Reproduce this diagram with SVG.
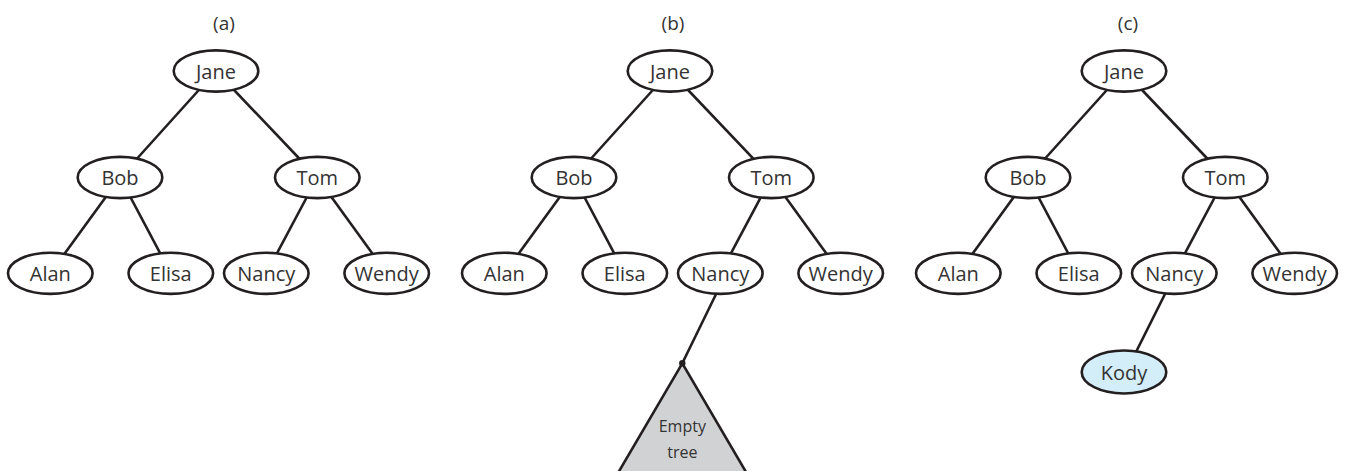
<svg xmlns="http://www.w3.org/2000/svg" width="1346" height="471" viewBox="0 0 1346 471">
  <style>
    .edge { stroke: #231f20; stroke-width: 2.6; fill: none; stroke-linecap: butt; }
    .node ellipse { fill: #ffffff; stroke: #231f20; stroke-width: 2.6; }
    .node.new ellipse { fill: #d4eef9; }
    text { font-family: "Open Sans", "Noto Sans", "Liberation Sans", sans-serif; font-size: 20px; fill: #333333; text-anchor: middle; }
    .caption { font-size: 19px; }
    .small { font-size: 16px; }
    .subtree { fill: #d1d2d4; stroke: #231f20; stroke-width: 2.6; stroke-linejoin: miter; }
  </style>
  <defs>
    <!-- shared tree layout: edges drawn centre to centre, hidden under the node fills -->
    <g id="base-edges">
      <line class="edge" x1="216" y1="71" x2="120" y2="177.5"/>
      <line class="edge" x1="216" y1="71" x2="317.3" y2="177.5"/>
      <line class="edge" x1="120" y1="177.5" x2="50.3" y2="273.3"/>
      <line class="edge" x1="120" y1="177.5" x2="170.8" y2="273.3"/>
      <line class="edge" x1="317.3" y1="177.5" x2="266.3" y2="273.3"/>
      <line class="edge" x1="317.3" y1="177.5" x2="386.7" y2="273.3"/>
    </g>
  </defs>

  <!-- (a) -->
  <g id="tree-a">
    <text class="caption" x="224" y="30">(a)</text>
    <g id="a-connectors"><use href="#base-edges"/></g>
    <g id="a-jane" class="node"><ellipse cx="216" cy="71" rx="42.3" ry="20.6"/><text x="216" y="78.5">Jane</text></g>
    <g id="a-bob" class="node"><ellipse cx="120" cy="177.5" rx="42.3" ry="20.6"/><text x="120" y="185">Bob</text></g>
    <g id="a-tom" class="node"><ellipse cx="317.3" cy="177.5" rx="42.3" ry="20.6"/><text x="317.3" y="185">Tom</text></g>
    <g id="a-alan" class="node"><ellipse cx="50.3" cy="273.3" rx="42.3" ry="20.6"/><text x="50.3" y="281">Alan</text></g>
    <g id="a-elisa" class="node"><ellipse cx="170.8" cy="273.3" rx="42.3" ry="20.6"/><text x="170.8" y="281">Elisa</text></g>
    <g id="a-nancy" class="node"><ellipse cx="266.3" cy="273.3" rx="42.3" ry="20.6"/><text x="266.3" y="281">Nancy</text></g>
    <g id="a-wendy" class="node"><ellipse cx="386.7" cy="273.3" rx="42.3" ry="20.6"/><text x="386.7" y="281">Wendy</text></g>
  </g>

  <!-- (b) -->
  <g id="tree-b">
    <text class="caption" x="673" y="30">(b)</text>
    <g id="b-connectors">
      <use href="#base-edges" transform="translate(454,0)"/>
      <line class="edge" x1="720.5" y1="285" x2="682.3" y2="363.3"/>
    </g>
    <g id="b-empty">
      <polygon class="subtree" points="682.3,363.3 613.9,480 750.7,480"/>
      <circle cx="682.3" cy="363.3" r="3.2" fill="#231f20"/>
      <text class="small" x="682.3" y="432">Empty</text>
      <text class="small" x="682.3" y="458">tree</text>
    </g>
    <g transform="translate(454,0)">
      <g id="b-jane" class="node"><ellipse cx="216" cy="71" rx="42.3" ry="20.6"/><text x="216" y="78.5">Jane</text></g>
      <g id="b-bob" class="node"><ellipse cx="120" cy="177.5" rx="42.3" ry="20.6"/><text x="120" y="185">Bob</text></g>
      <g id="b-tom" class="node"><ellipse cx="317.3" cy="177.5" rx="42.3" ry="20.6"/><text x="317.3" y="185">Tom</text></g>
      <g id="b-alan" class="node"><ellipse cx="50.3" cy="273.3" rx="42.3" ry="20.6"/><text x="50.3" y="281">Alan</text></g>
      <g id="b-elisa" class="node"><ellipse cx="170.8" cy="273.3" rx="42.3" ry="20.6"/><text x="170.8" y="281">Elisa</text></g>
      <g id="b-nancy" class="node"><ellipse cx="266.3" cy="273.3" rx="42.3" ry="20.6"/><text x="266.3" y="281">Nancy</text></g>
      <g id="b-wendy" class="node"><ellipse cx="386.7" cy="273.3" rx="42.3" ry="20.6"/><text x="386.7" y="281">Wendy</text></g>
    </g>
  </g>

  <!-- (c) -->
  <g id="tree-c">
    <text class="caption" x="1128" y="30">(c)</text>
    <g id="c-connectors">
      <use href="#base-edges" transform="translate(908,0)"/>
      <line class="edge" x1="1169.5" y1="285" x2="1132" y2="360"/>
    </g>
    <g transform="translate(908,0)">
      <g id="c-jane" class="node"><ellipse cx="216" cy="71" rx="42.3" ry="20.6"/><text x="216" y="78.5">Jane</text></g>
      <g id="c-bob" class="node"><ellipse cx="120" cy="177.5" rx="42.3" ry="20.6"/><text x="120" y="185">Bob</text></g>
      <g id="c-tom" class="node"><ellipse cx="317.3" cy="177.5" rx="42.3" ry="20.6"/><text x="317.3" y="185">Tom</text></g>
      <g id="c-alan" class="node"><ellipse cx="50.3" cy="273.3" rx="42.3" ry="20.6"/><text x="50.3" y="281">Alan</text></g>
      <g id="c-elisa" class="node"><ellipse cx="170.8" cy="273.3" rx="42.3" ry="20.6"/><text x="170.8" y="281">Elisa</text></g>
      <g id="c-nancy" class="node"><ellipse cx="266.3" cy="273.3" rx="42.3" ry="20.6"/><text x="266.3" y="281">Nancy</text></g>
      <g id="c-wendy" class="node"><ellipse cx="386.7" cy="273.3" rx="42.3" ry="20.6"/><text x="386.7" y="281">Wendy</text></g>
      <g id="c-kody" class="node new"><ellipse cx="216" cy="372" rx="42.3" ry="21.5"/><text x="216" y="379.5">Kody</text></g>
    </g>
  </g>
</svg>
